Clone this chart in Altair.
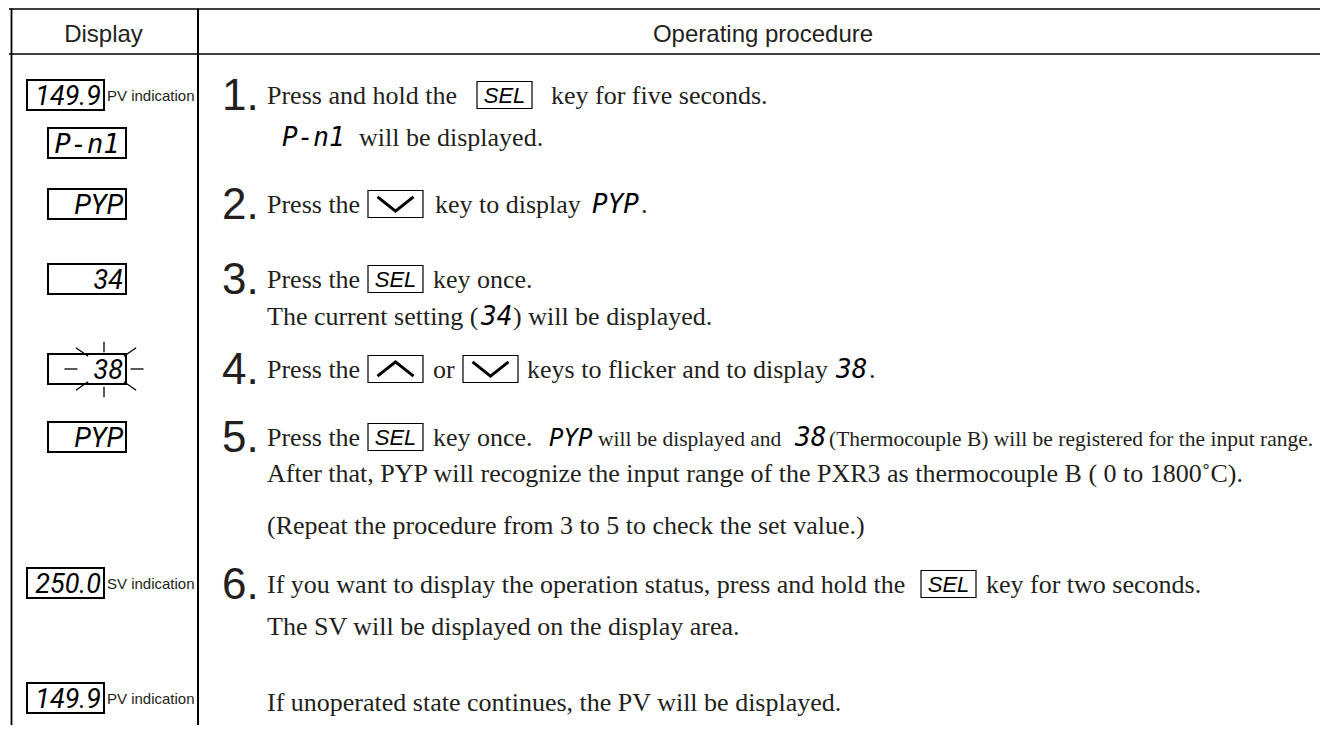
import altair as alt
import pandas as pd

# ---------------- content ----------------
header_labels = ["Display", "Operating procedure"]
step_labels = ["1.", "2.", "3.", "4.", "5.", "6."]
display_values = ["149.9", "P-n1", "PYP", "34", "38", "PYP", "250.0", "149.9"]
display_notes = ["PV indication", "SV indication", "PV indication"]
key_kinds = ["SEL", "down", "SEL", "up", "down", "SEL", "SEL"]
body_runs = [
    "Press and hold the", "key for five seconds.",
    "will be displayed.",
    "Press the", "key to display", ".",
    "Press the", "key once.",
    "The current setting (", ") will be displayed.",
    "Press the", "or", "keys to flicker and to display", ".",
    "Press the", "key once.",
    "After that, PYP will recognize the input range of the PXR3 as thermocouple B ( 0 to 1800˚C).",
    "(Repeat the procedure from 3 to 5 to check the set value.)",
    "If you want to display the operation status, press and hold the", "key for two seconds.",
    "The SV will be displayed on the display area.",
    "If unoperated state continues, the PV will be displayed.",
]
narrow_runs = ["will be displayed and", "(Thermocouple B) will be registered for the input range."]
inline_codes = ["P-n1", "PYP", "34", "38", "PYP", "38"]

# ---------------- layout (page pixels) ----------------
W, H = 1312, 717
row_y = {"r1": 95, "r1b": 137, "r2": 204, "r3": 279, "r3b": 316, "r4": 369,
         "r5": 437, "r5b": 473, "rep": 525, "r6": 584, "r6b": 626, "last": 702}
BASE = 9

step_rows = ["r1", "r2", "r3", "r4", "r5", "r6"]
step_x = 222

body_rows = ["r1", "r1", "r1b", "r2", "r2", "r2", "r3", "r3", "r3b", "r3b",
             "r4", "r4", "r4", "r4", "r5", "r5", "r5b", "rep", "r6", "r6", "r6b", "last"]
body_x = [267, 551, 359, 267, 435, 641, 267, 433, 267, 513,
          267, 433, 527, 869, 267, 433, 267, 267, 267, 986, 267, 267]

narrow_rows = ["r5", "r5"]
narrow_x = [598, 829]

code_rows = ["r1b", "r2", "r3b", "r4", "r5", "r5"]
code_x = [282, 592, 481, 836, 549, 795]
code_size = [26, 26, 26, 26, 24, 26]

display_centres = [95, 143, 204, 279, 369, 437, 583, 698]
display_wide = [True, False, False, False, False, False, True, True]
note_index = [0, 6, 7]

key_rows = ["r1", "r2", "r3", "r4", "r4", "r5", "r6"]
key_x0 = [477, 368, 368, 368, 463, 368, 921]
KEY_W, KEY_H = 55, 27

TXT = "#231f20"
SEG_MONO = "DejaVu Sans Mono"
xs = alt.Scale(domain=[8, 8 + W], nice=False, zero=False)
ys = alt.Scale(domain=[8, 8 + H], reverse=True, nice=False, zero=False)


def X(f="x"):
    return alt.X(f"{f}:Q", scale=xs, axis=None)


def Y(f="y"):
    return alt.Y(f"{f}:Q", scale=ys, axis=None)


def text_layer(df, font, size, align="left", style="normal", color=TXT, size_field=None):
    enc = dict(x=X(), y=Y(), text="text:N")
    if size_field:
        enc["size"] = alt.Size(f"{size_field}:Q", scale=None, legend=None)
    return alt.Chart(df).mark_text(font=font, fontSize=size, align=align, baseline="alphabetic",
                                   fontStyle=style, color=color).encode(**enc)


# table frame: solid bars for left border / divider, rules for top and header line
bars = pd.DataFrame({"x0": [10.6, 197], "x1": [12.4, 199], "yt": [8.5, 8.5], "yb": [740, 740]})
bar_layer = alt.Chart(bars).mark_rect(color="black", strokeWidth=0).encode(
    x=X("x0"), x2="x1:Q", y=Y("yt"), y2="yb:Q")
hl = pd.DataFrame({"x": [9, 9], "x2": [1330, 1330], "y": [9, 54]})
h_layer = alt.Chart(hl).mark_rule(color="black", strokeWidth=1.6).encode(x=X(), x2="x2:Q", y=Y())

# header
hdr = pd.DataFrame({"text": header_labels, "x": [103.5, 763], "y": [42, 42]})
hdr_layer = text_layer(hdr, "Liberation Sans", 24, align="center")

# step numbers
steps = pd.DataFrame({"text": step_labels, "x": [step_x] * 6,
                      "y": [row_y[r] + 15 for r in step_rows]})
steps_layer = text_layer(steps, "Liberation Sans", 44)

# body serif text
body = pd.DataFrame({"text": body_runs, "x": body_x, "y": [row_y[r] + BASE for r in body_rows]})
body_layer = text_layer(body, "Liberation Serif", 26)

narrow = pd.DataFrame({"text": narrow_runs, "x": narrow_x, "y": [row_y[r] + BASE for r in narrow_rows]})
narrow_layer = text_layer(narrow, "Liberation Serif", 21.5)

codes = pd.DataFrame({"text": inline_codes, "x": code_x, "s": code_size,
                      "y": [row_y[r] + BASE for r in code_rows]})
codes_layer = text_layer(codes, SEG_MONO, 26, style="italic", color="black", size_field="s")

# display boxes
dx0 = [27 if w else 48 for w in display_wide]
dx1 = [104 if w else 126 for w in display_wide]
disp = pd.DataFrame({
    "text": display_values,
    "x": [b - 3 for b in dx1], "x0": dx0, "x1": dx1,
    "y": [c + 10 for c in display_centres],
    "yt": [c - 15 for c in display_centres], "yb": [c + 15 for c in display_centres]})
disp_box = alt.Chart(disp).mark_rect(fill="white", stroke="black", strokeWidth=2).encode(
    x=X("x0"), x2="x1:Q", y=Y("yt"), y2="yb:Q")
is_code = disp["text"] == "P-n1"
disp_text = text_layer(disp[~is_code], "Roboto", 27, align="right", style="italic", color="black")
pn = disp[is_code].copy()
pn["x"] = (pn["x0"] + pn["x1"]) / 2
disp_code = text_layer(pn, SEG_MONO, 27, align="center", style="italic", color="black")

notes = pd.DataFrame({"text": display_notes, "x": [107] * 3,
                      "y": [display_centres[i] + 6 for i in note_index]})
notes_layer = text_layer(notes, "Liberation Sans", 15)

# flicker rays round the "38" display
flick_c = display_centres[4]
rays = pd.DataFrame({
    "kind": ["h", "h", "v", "v", "d1", "d2", "d2", "d1"],
    "x": [71, 137, 104, 104, 82, 130, 82, 130],
    "y": [flick_c, flick_c, flick_c - 22, flick_c + 23, flick_c - 17, flick_c - 17, flick_c + 17, flick_c + 17]})
ray_shapes = {"h": ("M-1,0L1,0", 169), "v": ("M0,-1L0,1", 110),
              "d1": ("M-1,-0.7L1,0.7", 150), "d2": ("M-1,0.7L1,-0.7", 150)}
ray_layers = []
for k, (path, size) in ray_shapes.items():
    ray_layers.append(alt.Chart(rays[rays.kind == k]).mark_point(
        shape=path, size=size, filled=False, stroke="black", strokeWidth=1.3, opacity=1).encode(
        x=X(), y=Y()))

# key boxes
keys = pd.DataFrame({
    "kind": key_kinds,
    "x0": key_x0, "x1": [x + KEY_W for x in key_x0],
    "x": [x + KEY_W / 2 for x in key_x0],
    "yt": [row_y[r] - KEY_H / 2 for r in key_rows],
    "yb": [row_y[r] + KEY_H / 2 for r in key_rows],
    "yc": [row_y[r] for r in key_rows]})
keys["text"] = keys["kind"]
keys["y"] = keys["yc"] + 8
key_box = alt.Chart(keys).mark_rect(fill="white", stroke="black", strokeWidth=1.2).encode(
    x=X("x0"), x2="x1:Q", y=Y("yt"), y2="yb:Q")
sel_layer = text_layer(keys[keys.kind == "SEL"], "Liberation Sans", 22, align="center",
                       style="italic", color="black")
down_layer = alt.Chart(keys[keys.kind == "down"]).mark_point(
    shape="M-1,-0.4L0,0.4L1,-0.4", size=1296, filled=False, stroke="black",
    strokeWidth=3, opacity=1).encode(x=X(), y=Y("yc"))
up_layer = alt.Chart(keys[keys.kind == "up"]).mark_point(
    shape="M-1,0.4L0,-0.4L1,0.4", size=1296, filled=False, stroke="black",
    strokeWidth=3, opacity=1).encode(x=X(), y=Y("yc"))

chart = alt.layer(
    h_layer, bar_layer, hdr_layer, steps_layer, body_layer, narrow_layer, codes_layer,
    disp_box, disp_text, disp_code, notes_layer, *ray_layers,
    key_box, sel_layer, down_layer, up_layer
).properties(
    width=W, height=H, autosize=alt.AutoSizeParams(type="none"), padding=0,
    background="white"
).configure_view(stroke=None)

chart.save("out.html", embed_options={"renderer": "svg", "actions": False})
